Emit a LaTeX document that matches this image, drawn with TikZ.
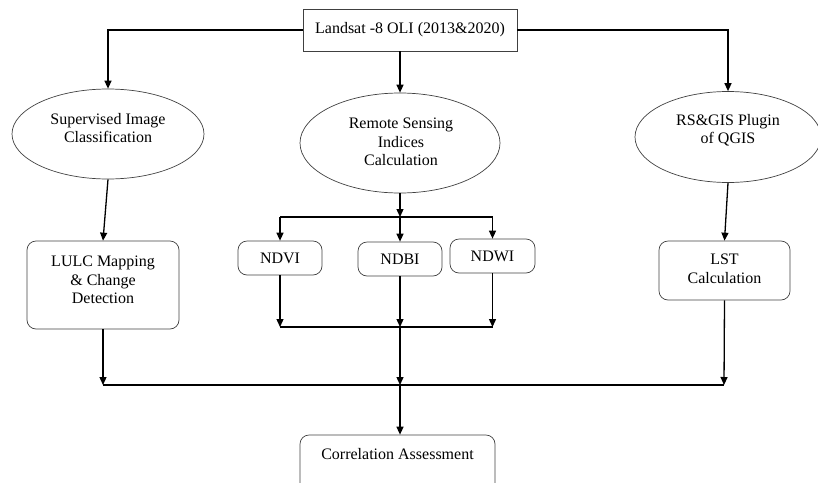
\documentclass[tikz,border=0pt]{standalone}
\usepackage{fontspec}
\setmainfont{Liberation Serif}
\usetikzlibrary{shapes.geometric,arrows.meta}
\begin{document}
\begin{tikzpicture}[x=1pt,y=-1pt,
  shapeline/.style={draw=black!75, line width=0.7pt},
  oval/.style={shapeline, ellipse, inner sep=0pt},
  rbox/.style={shapeline, rectangle, rounded corners=9pt, inner sep=0pt},
  sqbox/.style={shapeline, rectangle, inner sep=0pt},
  txt/.style={align=center, inner sep=0pt, font=\fontsize{16}{18.5}\selectfont},
  conn/.style={draw=black, line width=1.3pt},
  arr/.style={conn, -{Triangle[length=8pt,width=7pt]}}]
\useasboundingbox (0,0) rectangle (818,482);
% nodes
\node[sqbox, minimum width=214pt, minimum height=42pt] (top) at (410,30) {};
\node[txt] (topT) at (410,30) {Landsat -8 OLI (2013\&2020)};
\node[oval, minimum width=192pt, minimum height=90pt] (sup) at (108,134) {};
\node[txt] (supT) at (108,128) {Supervised Image\\Classification};
\node[oval, minimum width=200pt, minimum height=100pt] (rsi) at (400,143) {};
\node[txt] (rsiT) at (401,142) {Remote Sensing\\Indices\\Calculation};
\node[oval, minimum width=186pt, minimum height=91pt] (rsg) at (728,137) {};
\node[txt] (rsgT) at (728,130) {RS\&GIS Plugin\\of QGIS};
\node[rbox, minimum width=152pt, minimum height=88pt] (lulc) at (103,285) {};
\node[txt] (lulcT) at (103,280) {LULC Mapping\\\& Change\\Detection};
\node[rbox, minimum width=84pt, minimum height=34pt] (ndvi) at (280,258) {};
\node[txt] (ndviT) at (280,258) {NDVI};
\node[rbox, minimum width=84pt, minimum height=34pt] (ndbi) at (400,259) {};
\node[txt] (ndbiT) at (400,259) {NDBI};
\node[rbox, minimum width=85pt, minimum height=34pt] (ndwi) at (492.5,256) {};
\node[txt] (ndwiT) at (492.5,256) {NDWI};
\node[rbox, minimum width=131pt, minimum height=59pt] (lst) at (724.5,270.5) {};
\node[txt] (lstT) at (724.5,269) {LST\\Calculation};
\node[rbox, minimum width=195pt, minimum height=62pt] (corr) at (397.5,466) {};
\node[txt] (corrT) at (397.5,454) {Correlation Assessment};
% coordinates
\coordinate (sp) at (400,217);
\coordinate (mg) at (400,327);
\coordinate (bl) at (103,385);
\coordinate (bm) at (400,385);
\coordinate (br) at (724,385);
% top connectors
\draw[arr] (top.west) -| (sup.north);
\draw[arr] (top.east) -| (rsg.north);
\draw[arr] (rsi.north |- top.south) -- (rsi.north);
% left column
\draw[arr] (sup.south) -- (lulc.north);
\draw[arr] (lulc.south) -- (bl);
% right column
\draw[arr] (rsg.south) -- (lst.north);
\draw[arr] (lst.south) -- (br);
% middle split
\draw[arr] (rsi.south) -- (sp);
\draw[conn] (ndvi.north |- sp) -- (ndwi.north |- sp);
\draw[arr] (ndvi.north |- sp) -- (ndvi.north);
\draw[arr] (ndbi.north |- sp) -- (ndbi.north);
\draw[arr] (ndwi.north |- sp) -- (ndwi.north);
% middle merge
\draw[arr] (ndvi.south) -- (ndvi.south |- mg);
\draw[arr] (ndbi.south) -- (mg);
\draw[arr] (ndwi.south) -- (ndwi.south |- mg);
\draw[conn] (ndvi.south |- mg) -- (ndwi.south |- mg);
\draw[arr] (mg) -- (bm);
% bottom
\draw[conn] (bl) -- (br);
\draw[arr] (bm) -- (bm |- corr.north);
\end{tikzpicture}
\end{document}
